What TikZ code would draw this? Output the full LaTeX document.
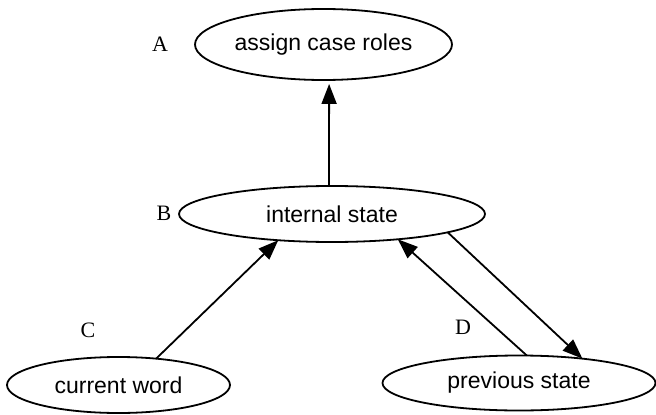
\documentclass[tikz,border=0pt]{standalone}
\usepackage{fontspec}
\setmainfont{Liberation Serif}
\setsansfont{Liberation Sans}
\usetikzlibrary{shapes.geometric,arrows.meta}
\begin{document}
\begin{tikzpicture}[x=1pt,y=-1pt,
  state/.style={ellipse,draw,line width=1.8pt,inner sep=0pt,outer sep=0pt,
    font=\sffamily\fontsize{23}{26}\selectfont},
  lbl/.style={font=\fontsize{22}{25}\selectfont,inner sep=0pt},
  arr/.style={line width=1.8pt,-{Triangle[length=20pt,width=15pt]}}]
\useasboundingbox (0,0) rectangle (656,415);
\node[state,minimum width=257pt,minimum height=71pt] (A) at (323.5,44.5) {assign case roles};
\node[state,minimum width=306pt,minimum height=56pt] (B) at (332,214) {internal state};
\node[state,minimum width=223pt,minimum height=56pt] (Cw) at (118.5,385) {current word};
\node[state,minimum width=273pt,minimum height=55pt] (P) at (519,383) {previous state};
\node[lbl] (la) at (160,44) {A};
\node[lbl] (lb) at (164,213) {B};
\node[lbl] (lc) at (88,330) {C};
\node[lbl] (ld) at (463,327) {D};
\draw[arr,shorten >=4pt] (B.96) -- (A.-81);
\draw[arr] (Cw.35) -- (B.-154);
\draw[arr] (P.74) -- (B.-21);
\draw[arr] (B.-9) -- (P.21);
\end{tikzpicture}
\end{document}
